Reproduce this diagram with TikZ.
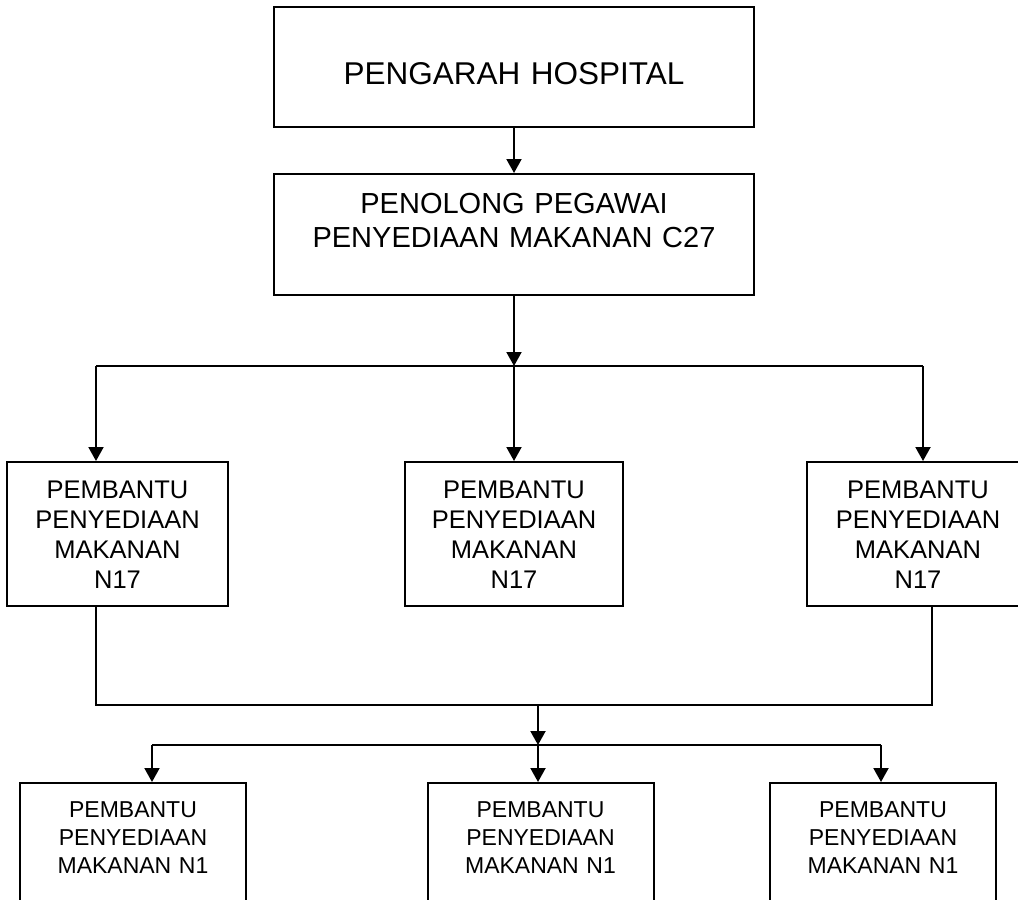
\documentclass[tikz,border=0pt]{standalone}
\usepackage{fontspec}
\setmainfont{Liberation Sans}
\usetikzlibrary{arrows.meta}

\begin{document}
\begin{tikzpicture}[x=1pt,y=-1pt,line width=2pt,>={Triangle[width=15pt,length=14pt]},
    box/.style={draw,anchor=north,inner sep=0pt,align=center},
    big/.style={box,text width=480pt,font=\fontsize{29}{34}\selectfont},
    mid/.style={box,text height=36pt,text depth=108pt,font=\fontsize{25.5}{30}\selectfont},
    low/.style={box,text width=226pt,text height=34pt,text depth=120pt,font=\fontsize{23}{28}\selectfont}]
    \useasboundingbox (0,0) rectangle (1018,900);
    \clip (0,0) rectangle (1018,900);
    \node[big,text height=77pt,text depth=43pt,font=\fontsize{31.5}{36}\selectfont] (dir) at (514,6) {PENGARAH HOSPITAL};
    \node[big,text height=39pt,text depth=82pt] (pen) at (514,173) {PENOLONG PEGAWAI\\PENYEDIAAN MAKANAN C27};
    \node[mid,text width=221pt] (pmL) at (117.5,461) {PEMBANTU\\PENYEDIAAN\\MAKANAN\\N17};
    \node[mid,text width=218pt] (pmC) at (514,461) {PEMBANTU\\PENYEDIAAN\\MAKANAN\\N17};
    \node[mid,text width=222pt] (pmR) at (918,461) {PEMBANTU\\PENYEDIAAN\\MAKANAN\\N17};
    \node[low] (pnL) at (133,782) {PEMBANTU\\PENYEDIAAN\\MAKANAN N1};
    \node[low] (pnC) at (540.5,782) {PEMBANTU\\PENYEDIAAN\\MAKANAN N1};
    \node[low] (pnR) at (883,782) {PEMBANTU\\PENYEDIAAN\\MAKANAN N1};
    \coordinate (topC) at (514,366);
    \coordinate (topL) at (96,366);
    \coordinate (topR) at (923,366);
    \coordinate (midL) at (96,705);
    \coordinate (midC) at (538,705);
    \coordinate (midR) at (932,705);
    \coordinate (lowL) at (152,745);
    \coordinate (lowC) at (538,745);
    \coordinate (lowR) at (881,745);
    \draw[->] (dir) -- (pen);
    \draw[->] (pen) -- (topC);
    \draw (topL) -- (topR);
    \draw[->] (topL) -- (topL |- pmL.north);
    \draw[->] (topC) -- (pmC);
    \draw[->] (topR) -- (topR |- pmR.north);
    \draw (pmL.south -| midL) -- (midL) -- (midR) -- (pmR.south -| midR);
    \draw[->] (midC) -- (lowC);
    \draw (lowL) -- (lowR);
    \draw[->] (lowL) -- (lowL |- pnL.north);
    \draw[->] (lowC) -- (lowC |- pnC.north);
    \draw[->] (lowR) -- (lowR |- pnR.north);
\end{tikzpicture}
\end{document}
